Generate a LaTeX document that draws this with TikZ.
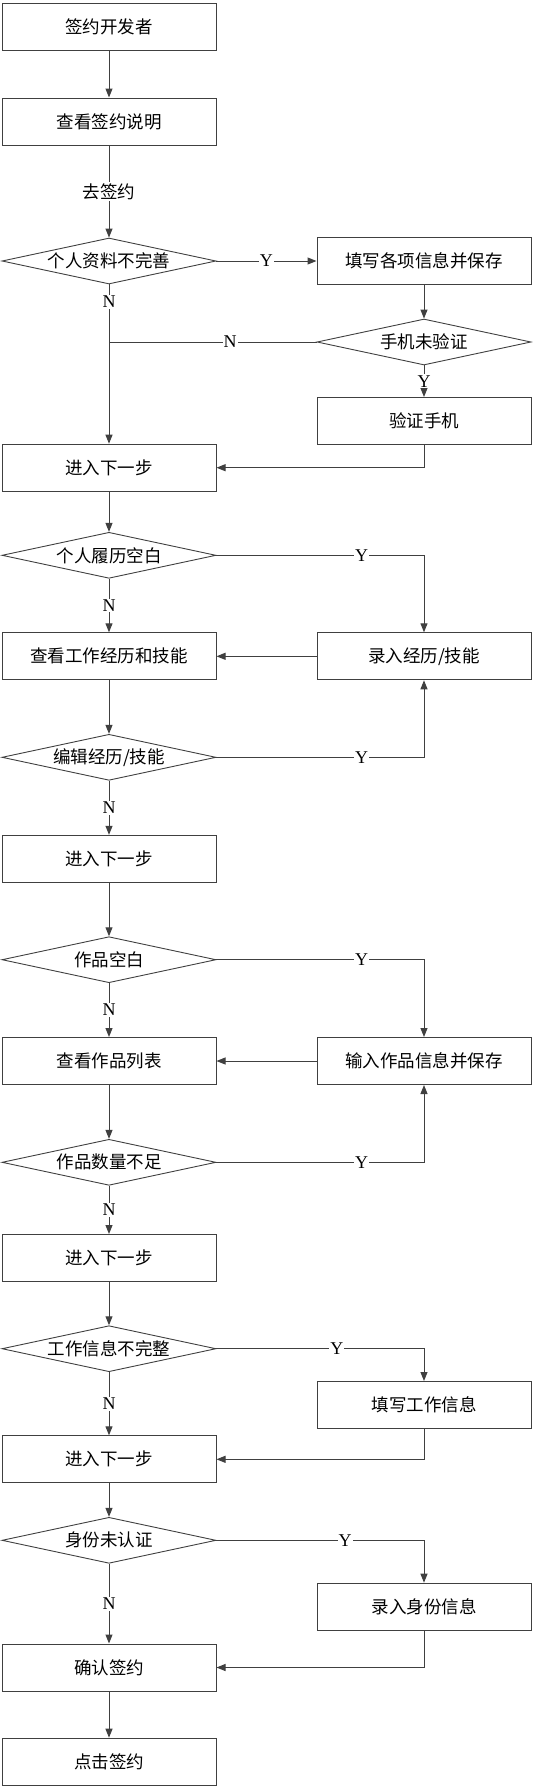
\documentclass[tikz,border=0pt]{standalone}
\usepackage{fontspec}
\setmainfont{Liberation Serif}
\newfontfamily\cjk{Noto Sans CJK SC}
\usetikzlibrary{shapes.geometric,arrows.meta}
\begin{document}
\begin{tikzpicture}[x=1pt,y=-1pt,
 box/.style={draw=black!75, line width=1pt, minimum width=214pt, minimum height=47pt, inner sep=0pt, font=\cjk\fontsize{17.5}{20}\selectfont},
 dia/.style={draw=black!75, line width=0.9pt, diamond, minimum width=214pt, minimum height=46pt, inner sep=0pt},
 dtext/.style={font=\cjk\fontsize{17.5}{20}\selectfont, inner sep=0pt},
 arr/.style={draw=black!75, line width=1pt, -{Triangle[length=9pt,width=7pt]}},
 ln/.style={draw=black!75, line width=1pt},
 yn/.style={fill=white, inner sep=1pt, font=\fontsize{18}{19}\selectfont},
 lbl/.style={fill=white, inner sep=1pt, font=\cjk\fontsize{17.5}{20}\selectfont},
]
\useasboundingbox (0,0) rectangle (534,1789);
\def\L{109}
\def\R{424}
% left column
\node[box] (b1) at (\L,27) {签约开发者};
\node[box] (b2) at (\L,121.5) {查看签约说明};
\node[dia] (d1) at (\L,261) {};
\node[dtext] (d1t) at (d1) {个人资料不完善};
\node[box] (b3) at (\L,467.7) {进入下一步};
\node[dia] (d3) at (\L,555.3) {};
\node[dtext] (d3t) at (d3) {个人履历空白};
\node[box] (b4) at (\L,656.3) {查看工作经历和技能};
\node[dia] (d4) at (\L,757.3) {};
\node[dtext] (d4t) at (d4) {编辑经历/技能};
\node[box] (b5) at (\L,858.8) {进入下一步};
\node[dia] (d5) at (\L,959.7) {};
\node[dtext] (d5t) at (d5) {作品空白};
\node[box] (b6) at (\L,1061) {查看作品列表};
\node[dia] (d6) at (\L,1162.3) {};
\node[dtext] (d6t) at (d6) {作品数量不足};
\node[box] (b7) at (\L,1258) {进入下一步};
\node[dia] (d7) at (\L,1348.7) {};
\node[dtext] (d7t) at (d7) {工作信息不完整};
\node[box] (b8) at (\L,1459.3) {进入下一步};
\node[dia] (d8) at (\L,1540.3) {};
\node[dtext] (d8t) at (d8) {身份未认证};
\node[box] (b9) at (\L,1667.5) {确认签约};
\node[box] (b10) at (\L,1761.7) {点击签约};
% right column
\node[box] (r1) at (\R,261) {填写各项信息并保存};
\node[dia] (d2) at (\R,342) {};
\node[dtext] (d2t) at (d2) {手机未验证};
\node[box] (r2) at (\R,421) {验证手机};
\node[box] (r3) at (\R,656.3) {录入经历/技能};
\node[box] (r4) at (\R,1061) {输入作品信息并保存};
\node[box] (r5) at (\R,1405) {填写工作信息};
\node[box] (r6) at (\R,1606.7) {录入身份信息};
% connectors
\draw[arr] (b1) -- (b2);
\draw[arr] (b2) -- node[lbl] {去签约} (d1);
\draw[arr] (d1.east) -- node[yn] {Y} (r1.west);
\draw[arr] (r1) -- (d2);
\draw[arr] (d2) -- node[yn] {Y} (r2);
\draw[arr] (d1.south) -- node[yn, pos=0.11] {N} (b3.north);
\draw[ln] (d2.west) -- node[yn, pos=0.417] {N} (d2.west -| d1.south);
\draw[arr] (r2.south) |- (b3.east);
\draw[arr] (b3) -- (d3);
\draw[arr] (d3.east) -| node[yn, pos=0.35] {Y} (r3.north);
\draw[arr] (d3.south) -- node[yn] {N} (b4.north);
\draw[arr] (r3.west) -- (b4.east);
\draw[arr] (b4) -- (d4);
\draw[arr] (d4.east) -| node[yn, pos=0.35] {Y} (r3.south);
\draw[arr] (d4.south) -- node[yn] {N} (b5.north);
\draw[arr] (b5) -- (d5);
\draw[arr] (d5.east) -| node[yn, pos=0.35] {Y} (r4.north);
\draw[arr] (d5.south) -- node[yn] {N} (b6.north);
\draw[arr] (r4.west) -- (b6.east);
\draw[arr] (b6) -- (d6);
\draw[arr] (d6.east) -| node[yn, pos=0.35] {Y} (r4.south);
\draw[arr] (d6.south) -- node[yn] {N} (b7.north);
\draw[arr] (b7) -- (d7);
\draw[arr] (d7.east) -| node[yn, pos=0.29] {Y} (r5.north);
\draw[arr] (d7.south) -- node[yn] {N} (b8.north);
\draw[arr] (r5.south) |- (b8.east);
\draw[arr] (b8) -- (d8);
\draw[arr] (d8.east) -| node[yn, pos=0.31] {Y} (r6.north);
\draw[arr] (d8.south) -- node[yn] {N} (b9.north);
\draw[arr] (r6.south) |- (b9.east);
\draw[arr] (b9) -- (b10);
\end{tikzpicture}
\end{document}
